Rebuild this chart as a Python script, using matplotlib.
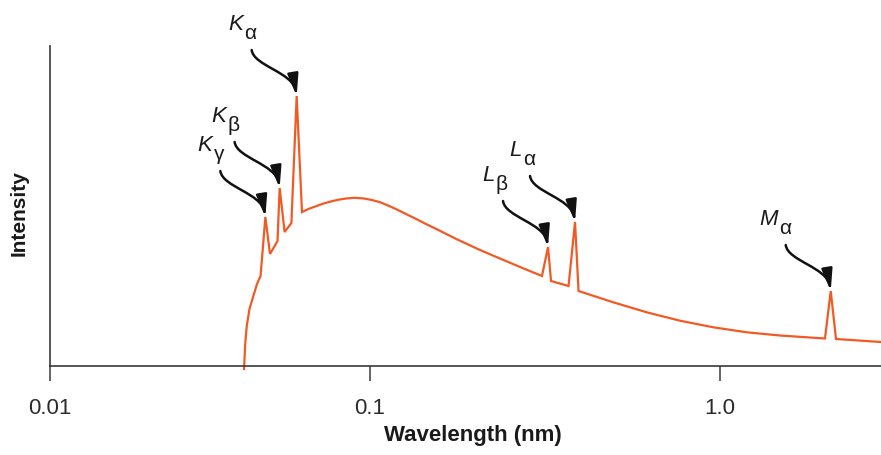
import numpy as np
import matplotlib
matplotlib.use('Agg')
from matplotlib import pyplot as plt
from matplotlib.patches import FancyArrowPatch
from matplotlib.path import Path
from matplotlib.transforms import IdentityTransform
from matplotlib.ticker import FixedLocator, FixedFormatter, NullLocator

plt.rcParams['font.family'] = ['Liberation Sans', 'DejaVu Sans']

# x-ray spectrum (wavelength in nm, intensity in arbitrary units)
wavelength = [0.0404, 0.04074, 0.0412, 0.04201, 0.0432, 0.04434, 0.0455, 0.0471, 0.0487, 0.0514,
              0.0522, 0.0541, 0.0568, 0.0590, 0.0613, 0.0642, 0.0681, 0.0713, 0.0750, 0.0794,
              0.0846, 0.0898, 0.0953, 0.1013, 0.1068, 0.1126, 0.1192, 0.1267, 0.1359, 0.1445,
              0.1551, 0.1769, 0.2062, 0.2351, 0.2683, 0.3100, 0.3226, 0.3290, 0.3692, 0.3853,
              0.3943, 0.4955, 0.6175, 0.7686, 0.9570, 1.192, 1.484, 1.995, 2.072, 2.145, 2.884]
intensity = [-3, 22, 40, 57, 70, 82, 90, 149, 112, 125,
             178, 134, 143, 270, 154, 157, 160, 162.3, 164.3, 166.2,
             167.6, 168.2, 167.6, 166, 163.8, 160.5, 156.6, 152, 146.8, 142,
             136.8, 126.8, 116, 107.5, 99, 90, 119, 85, 80, 144,
             75, 63.7, 53.7, 45.3, 38.7, 33.7, 30.5, 27.5, 75, 27, 24]

# characteristic lines
line_letter = ['K', 'K', 'K', 'L', 'L', 'M']
line_sub = ['α', 'β', 'γ', 'β', 'α', 'α']
line_wl = [0.0590, 0.0522, 0.0471, 0.3226, 0.3853, 2.072]
line_int = [270, 178, 149, 119, 144, 75]

tick_vals = [0.01, 0.1, 1.0]
tick_text = ['0.01', '0.1', '1.0']


# the drawn log axis has uneven decades (0.01-0.1 is shorter than 0.1-1)
def fwd(x):
    with np.errstate(divide='ignore', invalid='ignore'):
        L = np.log10(np.maximum(np.asarray(x, dtype=float), 1e-12))
    return np.where(L <= -1, (L + 2) * 320.0, 320.0 + (L + 1) * 350.0)


def inv(u):
    u = np.asarray(u, dtype=float)
    return np.where(u <= 320, 10 ** (u / 320.0 - 2), 10 ** ((u - 320.0) / 350.0 - 1))


fig = plt.figure(figsize=(8.81, 4.56), dpi=100)
ax = fig.add_axes([50 / 881, 89 / 456, 831 / 881, 320 / 456])

ax.set_xscale('function', functions=(fwd, inv))
ax.set_xlim(0.01, 2.884)
ax.set_ylim(0, 320)

ax.plot(wavelength, intensity, color='#f15a24', lw=1.6, solid_joinstyle='miter', clip_on=False)

for s in ['top', 'right']:
    ax.spines[s].set_visible(False)
for s in ['left', 'bottom']:
    ax.spines[s].set_color('#3a3a3a')
    ax.spines[s].set_linewidth(1.2)

ax.set_yticks([])
ax.xaxis.set_major_locator(FixedLocator(tick_vals))
ax.xaxis.set_major_formatter(FixedFormatter(tick_text))
ax.xaxis.set_minor_locator(NullLocator())
ax.tick_params(axis='x', length=11, width=1.1, color='#3a3a3a', labelsize=16,
               labelcolor='#2b2b2b', pad=11)

ax.set_xlabel('Wavelength (nm)', fontsize=16, fontweight='bold', color='#1a1a1a', va='top')
ax.xaxis.set_label_coords(0.509, -0.18)
ax.set_ylabel('Intensity', fontsize=15, fontweight='bold', color='#1a1a1a')
ax.yaxis.set_label_coords(-0.026, 0.48)

# labels and curly arrows pointing at each line
for letter, sub, x, y in zip(line_letter, line_sub, line_wl, line_int):
    ax.annotate(letter, xy=(x, y), xytext=(-53 * 0.72, 67 * 0.72), textcoords='offset points',
                ha='right', va='baseline', fontsize=16, style='italic', color='#1a1a1a')
    ax.annotate(sub, xy=(x, y), xytext=(-46 * 0.72, 58 * 0.72), textcoords='offset points',
                ha='center', va='baseline', fontsize=15, color='#1a1a1a')
    tx, ty = ax.transData.transform((x, y))
    verts = [(tx - 45, ty + 46), (tx - 43, ty + 30), (tx - 4, ty + 24), (tx, ty)]
    codes = [Path.MOVETO, Path.CURVE4, Path.CURVE4, Path.CURVE4]
    arr = FancyArrowPatch(path=Path(verts, codes),
                          arrowstyle='-|>,head_length=0.65,head_width=0.16',
                          mutation_scale=20, lw=1.8, color='#111111',
                          transform=IdentityTransform())
    fig.add_artist(arr)

fig.savefig('out.png', dpi=100)
